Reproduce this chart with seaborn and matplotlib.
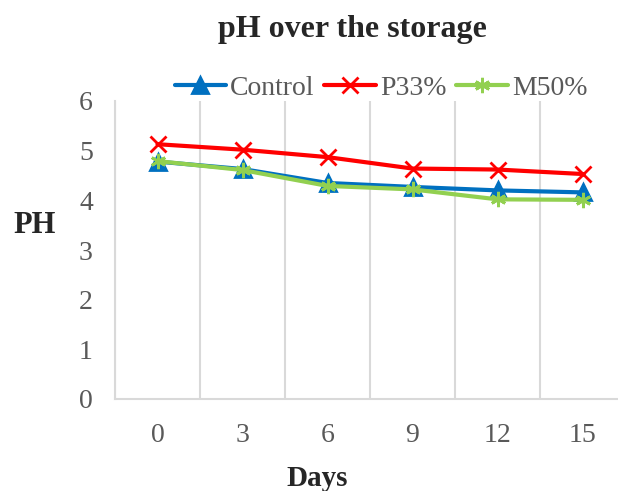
import matplotlib.pyplot as plt
import numpy as np
import pandas as pd
import seaborn as sns

days = ["0", "3", "6", "9", "12", "15"]
control = [4.78, 4.63, 4.35, 4.27, 4.20, 4.16]
p33 = [5.13, 5.02, 4.87, 4.64, 4.62, 4.53]
m50 = [4.79, 4.61, 4.29, 4.22, 4.02, 4.01]

series = {"Control": control, "P33%": p33, "M50%": m50}
rows = []
for name, vals in series.items():
    for i, v in enumerate(vals):
        rows.append({"pos": i, "pH": v, "group": name})
df = pd.DataFrame(rows)

sns.set_style("white")
plt.rcParams['font.family'] = ['Liberation Serif', 'DejaVu Serif']

fig = plt.figure(figsize=(6.18, 4.91), dpi=100)
ax = fig.add_axes([115 / 618, 92 / 491, 510 / 618, 298 / 491])

palette = {"Control": "#0070c0", "P33%": "#ff0000", "M50%": "#92d050"}
markers = {"Control": "^", "P33%": "x", "M50%": (6, 2, 0)}
for name in series:
    sub = df[df["group"] == name]
    sns.lineplot(data=sub, x="pos", y="pH", ax=ax, color=palette[name],
                 marker=markers[name], markersize=11, markeredgewidth=2,
                 markeredgecolor=palette[name], linewidth=3, label=name)

ax.set_xlim(-0.5, 5.5)
ax.set_ylim(0, 6)
ax.set_xticks(range(len(days)))
ax.set_xticklabels(days)
ax.set_yticks(range(7))
ax.set_xticks(np.arange(-0.5, 5.6, 1), minor=True)
ax.grid(False)
ax.grid(True, which="minor", axis="x", color="#d9d9d9", linewidth=1.5)
ax.tick_params(axis="both", which="both", length=0, labelsize=20, colors="#595959")
ax.tick_params(axis="x", pad=17)
ax.tick_params(axis="y", pad=16)
for s in ["top", "right"]:
    ax.spines[s].set_visible(False)
for s in ["left", "bottom"]:
    ax.spines[s].set_color("#d9d9d9")
    ax.spines[s].set_linewidth(1.5)

ax.set_xlabel("")
ax.set_ylabel("")
fig.text(352 / 618, 1 - 29 / 491, "pH over the storage", ha="center", va="center",
         fontsize=23, fontweight="bold")
fig.text(35 / 618, 1 - 225 / 491, "PH", ha="center", va="center",
         fontsize=22, fontweight="bold")
fig.text(317 / 618, 1 - 479 / 491, "Days", ha="center", va="center",
         fontsize=21, fontweight="bold")

leg = ax.legend(loc="center", bbox_to_anchor=(381 / 618, 1 - 88 / 491),
                bbox_transform=fig.transFigure, ncol=3, frameon=False,
                fontsize=20, handlelength=1.85, columnspacing=0.35, handletextpad=0.15,
                labelcolor="#595959")

fig.savefig("out.png", dpi=100)
